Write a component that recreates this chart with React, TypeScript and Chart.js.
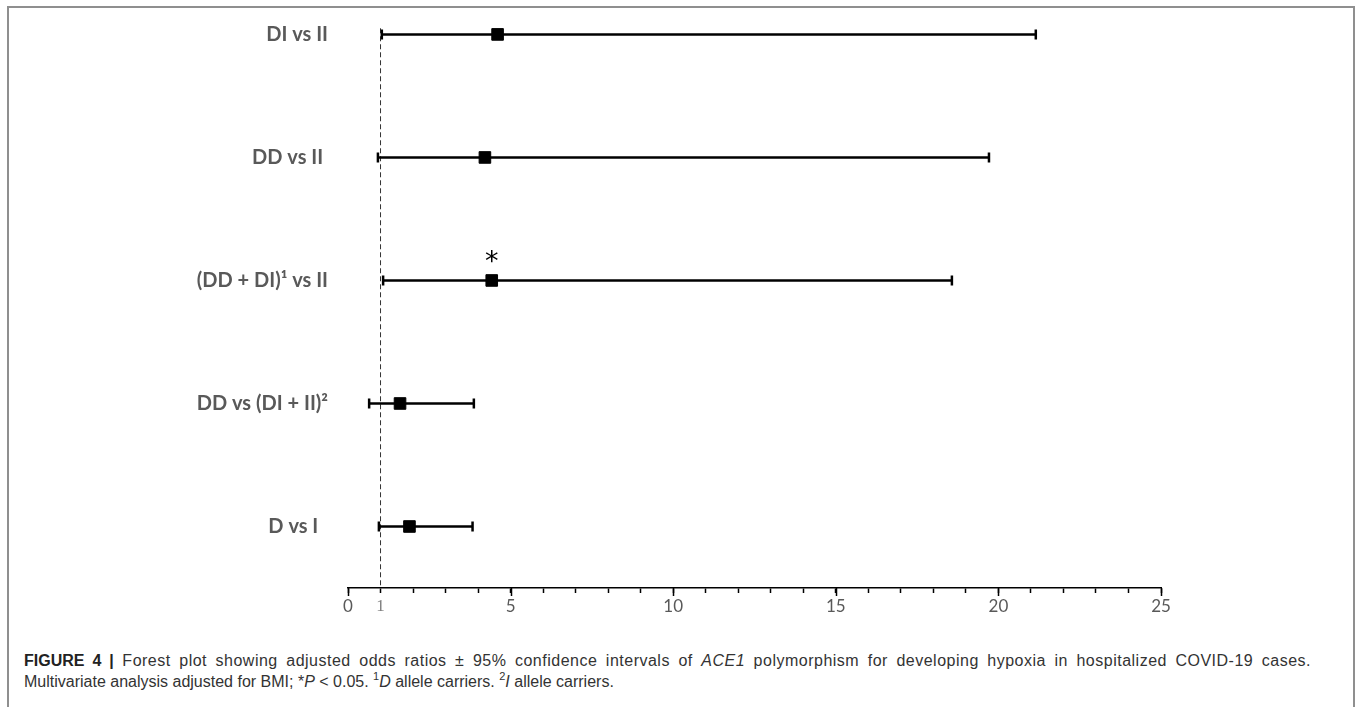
import React, { useEffect, useRef } from "react";
import { Chart, registerables } from "chart.js";

Chart.register(...registerables);

// ---- data ----
const categories = ["DI vs II", "DD vs II ", "(DD + DI)\u00B9 vs II", "DD vs (DI + II)\u00B2", "D vs I  "];
const oddsRatio = [4.6, 4.21, 4.42, 1.6, 1.89];
const ciLower = [1.04, 0.92, 1.08, 0.65, 0.95];
const ciUpper = [21.15, 19.71, 18.57, 3.87, 3.83];
const significant = [false, false, true, false, false];
const referenceValue = 1;
const xTickValues = [0, 1, 2, 3, 4, 5, 6, 7, 8, 9, 10, 11, 12, 13, 14, 15, 16, 17, 18, 19, 20, 21, 22, 23, 24, 25];
const xLabelledTicks = [0, 1, 5, 10, 15, 20, 25];
const xMajorTicks = [0, 5, 10, 15, 20, 25];

const rowPos = (i: number) => categories.length - i - 0.5;

const App: React.FC = () => {
  const canvasRef = useRef<HTMLCanvasElement | null>(null);

  useEffect(() => {
    document.body.style.margin = "0";
    const canvas = canvasRef.current;
    if (!canvas) return;

    const errorSets = categories.map((_, i) => ({
      type: "line" as const,
      data: [
        { x: ciLower[i], y: rowPos(i) },
        { x: ciUpper[i], y: rowPos(i) },
      ],
      borderColor: "#000",
      borderWidth: 2.5,
      pointStyle: "line" as const,
      rotation: 90,
      pointRadius: 5,
      pointBorderWidth: 2.5,
      pointBorderColor: "#000",
      pointHoverRadius: 5,
      fill: false,
      order: 2,
    }));

    const markerPlugin = {
      id: "extras",
      afterDatasetsDraw(chart: any) {
        const { ctx, scales } = chart;
        const xs = scales.x;
        const ys = scales.y;
        ctx.save();
        ctx.fillStyle = "#000";
        ctx.font = "27px 'DejaVu Sans'";
        ctx.textAlign = "center";
        ctx.textBaseline = "middle";
        significant.forEach((s, i) => {
          if (!s) return;
          const px = xs.getPixelForValue(oddsRatio[i]);
          const py = ys.getPixelForValue(rowPos(i));
          ctx.fillText("*", px, py - 17);
        });
        // major tick extension
        ctx.strokeStyle = "#000";
        ctx.lineWidth = 1.5;
        const bottom = chart.chartArea.bottom;
        xMajorTicks.forEach((v) => {
          const px = Math.round(xs.getPixelForValue(v)) + 0.5;
          ctx.beginPath();
          ctx.moveTo(px, bottom);
          ctx.lineTo(px, bottom + 8);
          ctx.stroke();
        });
        ctx.restore();
      },
    };

    const chart = new Chart(canvas, {
      type: "scatter",
      data: {
        datasets: [
          {
            type: "scatter",
            data: categories.map((_, i) => ({ x: oddsRatio[i], y: rowPos(i) })),
            pointStyle: "rect",
            pointRadius: 8.2,
            pointHoverRadius: 8.2,
            backgroundColor: "#000",
            borderColor: "#000",
            borderWidth: 1,
            order: 0,
          } as any,
          ...errorSets,
          {
            type: "line",
            data: [
              { x: referenceValue, y: categories.length - 0.45 },
              { x: referenceValue, y: 0 },
            ],
            borderColor: "#333",
            borderWidth: 1,
            borderDash: [5, 3],
            pointRadius: 0,
            pointHoverRadius: 0,
            order: 3,
          } as any,
        ],
      },
      options: {
        animation: false,
        responsive: true,
        maintainAspectRatio: false,
        events: [],
        layout: { padding: { left: 0, right: 192, top: 8, bottom: 0 } },
        plugins: {
          legend: { display: false },
          tooltip: { enabled: false },
        },
        scales: {
          x: {
            type: "linear",
            min: 0,
            max: 25,
            afterBuildTicks: (scale: any) => {
              scale.ticks = xTickValues.map((v) => ({ value: v }));
            },
            afterFit: (scale: any) => {
              scale.height = 45;
              scale.paddingLeft = 0;
              scale.paddingRight = 0;
            },
            border: { display: true, color: "#000", width: 1.5 },
            grid: {
              drawOnChartArea: false,
              drawTicks: true,
              tickLength: 5,
              tickColor: "#000",
              tickWidth: 1.5,
            },
            ticks: {
              autoSkip: false,
              maxRotation: 0,
              padding: 3,
              color: (c: any) => (c.tick && c.tick.value === 1 ? "#808080" : "#595959"),
              font: (c: any) =>
                c.tick && c.tick.value === 1
                  ? { family: "'Liberation Serif'", size: 17 }
                  : { family: "Lato", size: 17 },
              callback: (v: any) => (xLabelledTicks.includes(Number(v)) ? String(v) : ""),
            },
          },
          y: {
            type: "linear",
            min: 0,
            max: 4.64,
            afterBuildTicks: (scale: any) => {
              scale.ticks = categories.map((_, i) => ({ value: rowPos(i) }));
            },
            afterFit: (scale: any) => {
              scale.width = 339;
              scale.paddingTop = 0;
              scale.paddingBottom = 0;
            },
            border: { display: false },
            grid: { display: false, drawTicks: false },
            ticks: {
              autoSkip: false,
              padding: 20,
              color: "#595959",
              font: { family: "Lato", size: 20, weight: "bold" },
              callback: (v: any) => {
                const idx = categories.findIndex((_, i) => Math.abs(rowPos(i) - Number(v)) < 1e-6);
                return idx >= 0 ? categories[idx] : "";
              },
            },
          },
        },
      },
      plugins: [markerPlugin],
    } as any);

    return () => chart.destroy();
  }, []);

  const supStyle: React.CSSProperties = {
    fontSize: 11,
    lineHeight: 0,
    verticalAlign: "baseline",
    position: "relative",
    top: -7,
  };

  return (
    <div
      style={{
        position: "fixed",
        left: 7,
        top: 6,
        width: 1348,
        height: 730,
        border: "2px solid #8f8f8f",
        boxSizing: "border-box",
        background: "#fff",
      }}
    >
      <div style={{ position: "absolute", left: 0, top: 0, width: 1344, height: 625 }}>
        <canvas ref={canvasRef} />
      </div>
      <div
        style={{
          position: "absolute",
          left: 15,
          top: 642,
          width: 1287,
          fontFamily: "'Liberation Sans', Arial, sans-serif",
          fontSize: 16,
          lineHeight: "21px",
          color: "#333",
        }}
      >
        <div
          style={{
            textAlign: "justify",
            textAlignLast: "justify",
            whiteSpace: "nowrap" as any,
            letterSpacing: 0.5,
          }}
        >
          <b style={{ color: "#222", letterSpacing: 0 }}>FIGURE 4 |</b> Forest plot showing adjusted odds ratios ± 95%
          confidence intervals of <i>ACE1</i> polymorphism for developing hypoxia in hospitalized COVID-19 cases.
        </div>
        <div>
          Multivariate analysis adjusted for BMI; *<i>P</i> &lt; 0.05. <span style={supStyle}>1</span>
          <i>D</i> allele carriers. <span style={supStyle}>2</span>
          <i>I</i> allele carriers.
        </div>
      </div>
    </div>
  );
};

export default App;
